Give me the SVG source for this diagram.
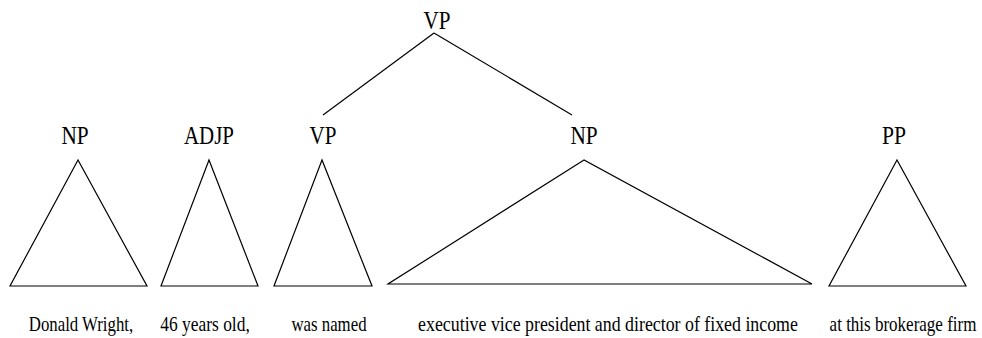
<svg xmlns="http://www.w3.org/2000/svg" width="982" height="338" viewBox="0 0 982 338">
<style>
.lbl{font-family:"Liberation Serif","Times New Roman",serif;font-size:26px;fill:#000;text-anchor:middle}
.leaf{font-family:"Liberation Serif","Times New Roman",serif;font-size:21px;fill:#000;text-anchor:middle}
.tri{fill:none;stroke:#000;stroke-width:1.2}
.edge{fill:none;stroke:#000;stroke-width:1.2}
</style>
<rect width="982" height="338" fill="#fff"/>
<g id="connectors">
<line class="edge" x1="434" y1="33" x2="323" y2="115"/>
<line class="edge" x1="434" y1="33" x2="572" y2="115"/>
</g>
<g id="vp-root">
<text class="lbl" transform="translate(437,29) scale(0.81,1)">VP</text>
</g>
<g id="np1">
<text class="lbl" transform="translate(75,144) scale(0.82,1)">NP</text>
<polygon class="tri" points="78,160 10,286 147,286"/>
<text class="leaf" transform="translate(81,331) scale(0.8,1)">Donald Wright,</text>
</g>
<g id="adjp">
<text class="lbl" transform="translate(209,144) scale(0.805,1)">ADJP</text>
<polygon class="tri" points="209,160 161,286 258,286"/>
<text class="leaf" transform="translate(205,331) scale(0.83,1)">46 years old,</text>
</g>
<g id="vp">
<text class="lbl" transform="translate(323,144) scale(0.81,1)">VP</text>
<polygon class="tri" points="322,160 274,286 372,286"/>
<text class="leaf" transform="translate(329,331) scale(0.8,1)">was named</text>
</g>
<g id="np2">
<text class="lbl" transform="translate(584,144) scale(0.82,1)">NP</text>
<polygon class="tri" points="584,160 388,284 812,284"/>
<text class="leaf" transform="translate(608,331) scale(0.85,1)">executive vice president and director of fixed income</text>
</g>
<g id="pp">
<text class="lbl" transform="translate(894,144) scale(0.83,1)">PP</text>
<polygon class="tri" points="897,160 829,286 966,286"/>
<text class="leaf" transform="translate(903,331) scale(0.81,1)">at this brokerage firm</text>
</g>
</svg>
